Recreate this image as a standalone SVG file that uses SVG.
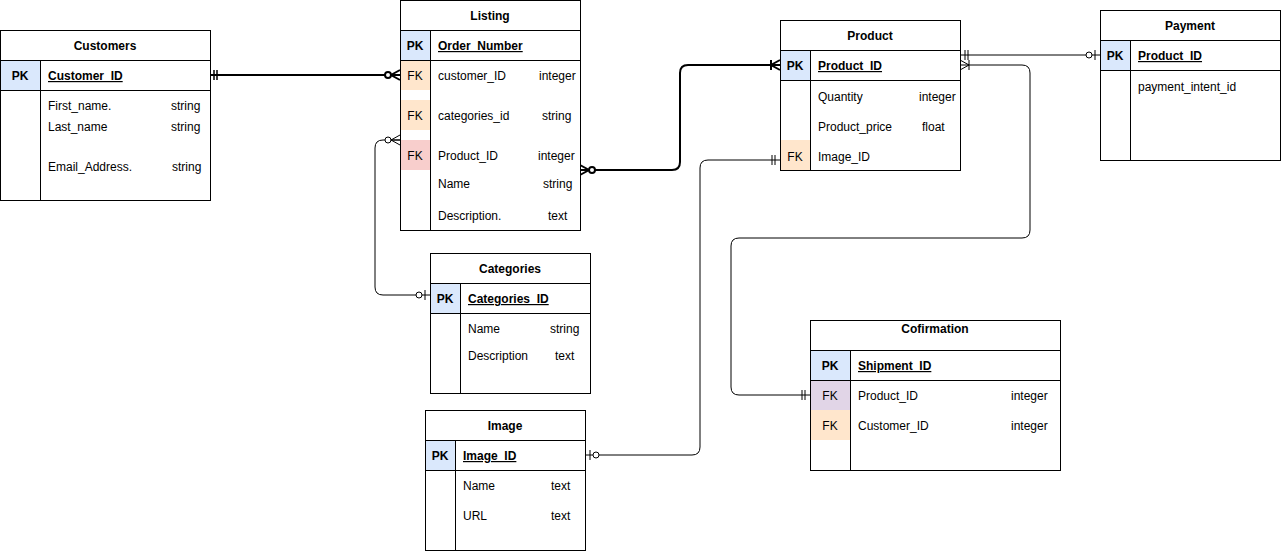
<svg xmlns="http://www.w3.org/2000/svg" width="1281" height="551" viewBox="0 0 1281 551">
<style>
text{font-family:"Liberation Sans",Arial,sans-serif;font-size:12px;fill:#000;transform:translateY(1px)}
.t{font-weight:bold;text-anchor:middle}
.k{font-weight:bold;text-anchor:middle}
.kf{text-anchor:middle}
.pk{font-weight:bold;text-decoration:underline}
.box{fill:#fff;stroke:#000;stroke-width:1}
.ln{fill:none;stroke:#000;stroke-width:1}
.blue{fill:#dae8fc}
.org{fill:#ffe6cc}
.red{fill:#f8cecc}
.pur{fill:#e1d5e7}
.c{fill:none;stroke:#000;stroke-width:1}
.ct{fill:none;stroke:#000;stroke-width:2}
</style>
<defs>
<marker id="mOne" markerUnits="userSpaceOnUse" viewBox="-20 -10 22 20" refX="0" refY="0" markerWidth="22" markerHeight="20" orient="auto-start-reverse" overflow="visible">
<path d="M-5,-5V5M-8,-5V5" fill="none" stroke="#000" stroke-width="1"/>
</marker>
<marker id="mOneT" markerUnits="userSpaceOnUse" viewBox="-20 -10 22 20" refX="0" refY="0" markerWidth="22" markerHeight="20" orient="auto-start-reverse" overflow="visible">
<path d="M-4,-5V5M-7,-5V5" fill="none" stroke="#000" stroke-width="1.5"/>
</marker>
<marker id="zMany" markerUnits="userSpaceOnUse" viewBox="-20 -10 22 20" refX="0" refY="0" markerWidth="22" markerHeight="20" orient="auto-start-reverse" overflow="visible">
<path d="M0,-5L-9,0L0,5M-9,0H0" fill="none" stroke="#000" stroke-width="1"/>
<circle cx="-12" cy="0" r="3" fill="#fff" stroke="#000" stroke-width="1"/>
</marker>
<marker id="zManyT" markerUnits="userSpaceOnUse" viewBox="-20 -10 22 20" refX="0" refY="0" markerWidth="22" markerHeight="20" orient="auto-start-reverse" overflow="visible">
<path d="M0,-5L-9,0L0,5M-9,0H0" fill="none" stroke="#000" stroke-width="2"/>
<circle cx="-12" cy="0" r="3" fill="#fff" stroke="#000" stroke-width="2"/>
</marker>
<marker id="oMany" markerUnits="userSpaceOnUse" viewBox="-20 -10 22 20" refX="0" refY="0" markerWidth="22" markerHeight="20" orient="auto-start-reverse" overflow="visible">
<path d="M0,-5L-9,0L0,5M-9,-5V5" fill="none" stroke="#000" stroke-width="1"/>
</marker>
<marker id="oManyT" markerUnits="userSpaceOnUse" viewBox="-20 -10 22 20" refX="0" refY="0" markerWidth="22" markerHeight="20" orient="auto-start-reverse" overflow="visible">
<path d="M0,-5L-9,0L0,5M-9,-5V5" fill="none" stroke="#000" stroke-width="2"/>
</marker>
<marker id="zOne" markerUnits="userSpaceOnUse" viewBox="-20 -10 22 20" refX="0" refY="0" markerWidth="22" markerHeight="20" orient="auto-start-reverse" overflow="visible">
<path d="M-5,-5V5" fill="none" stroke="#000" stroke-width="1"/>
<circle cx="-11" cy="0" r="3" fill="#fff" stroke="#000" stroke-width="1"/>
</marker>
</defs>
<rect width="1281" height="551" fill="#fff"/>

<g id="connectors">
<path class="ct" d="M210,75H400" marker-start="url(#mOneT)" marker-end="url(#zManyT)"/>
<path class="ct" d="M580,170H672Q680,170 680,162V73Q680,65 688,65H780" marker-start="url(#zManyT)" marker-end="url(#oManyT)"/>
<path class="c" d="M400,140H383Q375,140 375,148V287Q375,295 383,295H430" marker-start="url(#zMany)" marker-end="url(#zOne)"/>
<path class="c" d="M585,455H692Q700,455 700,447V168Q700,160 708,160H780" marker-start="url(#zOne)" marker-end="url(#mOne)"/>
<path class="c" d="M960,55H1100" marker-start="url(#mOne)" marker-end="url(#zOne)"/>
<path class="c" d="M960,65H1022Q1030,65 1030,73V230Q1030,238 1022,238H739Q731,238 731,246V387Q731,395 739,395H810" marker-start="url(#oMany)" marker-end="url(#mOne)"/>
</g>

<g id="customers">
<rect class="box" x="0.5" y="30.5" width="210" height="170"/>
<rect class="blue" x="1" y="61" width="39" height="29"/>
<path class="ln" d="M0,60.5H210M0,90.5H210M40.5,60V200"/>
<text class="t" x="105" y="49">Customers</text>
<text class="k" x="20" y="79">PK</text>
<text class="pk" x="48" y="79">Customer_ID</text>
<text x="48" y="109">First_name.</text><text x="171" y="109">string</text>
<text x="48" y="130">Last_name</text><text x="171" y="130">string</text>
<text x="48" y="170">Email_Address.</text><text x="172" y="170">string</text>
</g>

<g id="listing">
<rect class="box" x="400.5" y="0.5" width="180" height="230"/>
<rect class="blue" x="401" y="31" width="29" height="29"/>
<rect class="org" x="401" y="61" width="29" height="29"/>
<rect class="org" x="401" y="100" width="29" height="30"/>
<rect class="red" x="401" y="140" width="29" height="30"/>
<path class="ln" d="M400,30.5H580M400,60.5H580M430.5,30V230"/>
<text class="t" x="490" y="19">Listing</text>
<text class="k" x="415" y="49">PK</text>
<text class="pk" x="438" y="49">Order_Number</text>
<text class="kf" x="415" y="79">FK</text><text x="438" y="79">customer_ID</text><text x="539" y="79">integer</text>
<text class="kf" x="415" y="119">FK</text><text x="438" y="119">categories_id</text><text x="542" y="119">string</text>
<text class="kf" x="415" y="159">FK</text><text x="438" y="159">Product_ID</text><text x="538" y="159">integer</text>
<text x="438" y="187">Name</text><text x="543" y="187">string</text>
<text x="438" y="219">Description.</text><text x="548" y="219">text</text>
</g>

<g id="product">
<rect class="box" x="780.5" y="20.5" width="180" height="150"/>
<rect class="blue" x="781" y="51" width="29" height="29"/>
<rect class="org" x="781" y="140" width="29" height="30"/>
<path class="ln" d="M780,50.5H960M780,80.5H960M810.5,50V170"/>
<text class="t" x="870" y="39">Product</text>
<text class="k" x="795" y="69">PK</text>
<text class="pk" x="818" y="69">Product_ID</text>
<text x="818" y="100">Quantity</text><text x="919" y="100">integer</text>
<text x="818" y="130">Product_price</text><text x="922" y="130">float</text>
<text class="kf" x="795" y="160">FK</text><text x="818" y="160">Image_ID</text>
</g>

<g id="payment">
<rect class="box" x="1100.5" y="10.5" width="180" height="150"/>
<rect class="blue" x="1101" y="41" width="29" height="29"/>
<path class="ln" d="M1100,40.5H1280M1100,70.5H1280M1130.5,40V160"/>
<text class="t" x="1190" y="29">Payment</text>
<text class="k" x="1115" y="59">PK</text>
<text class="pk" x="1138" y="59">Product_ID</text>
<text x="1138" y="90">payment_intent_id</text>
</g>

<g id="categories">
<rect class="box" x="430.5" y="253.5" width="160" height="140"/>
<rect class="blue" x="431" y="284" width="29" height="29"/>
<path class="ln" d="M430,283.5H590M430,313.5H590M460.5,283V393"/>
<text class="t" x="510" y="272">Categories</text>
<text class="k" x="445" y="302">PK</text>
<text class="pk" x="468" y="302">Categories_ID</text>
<text x="468" y="332">Name</text><text x="550" y="332">string</text>
<text x="468" y="359">Description</text><text x="555" y="359">text</text>
</g>

<g id="image">
<rect class="box" x="425.5" y="410.5" width="160" height="140"/>
<rect class="blue" x="426" y="441" width="29" height="29"/>
<path class="ln" d="M425,440.5H585M425,470.5H585M455.5,440V550"/>
<text class="t" x="505" y="429">Image</text>
<text class="k" x="440" y="459">PK</text>
<text class="pk" x="463" y="459">Image_ID</text>
<text x="463" y="489">Name</text><text x="551" y="489">text</text>
<text x="463" y="519">URL</text><text x="551" y="519">text</text>
</g>

<g id="cofirmation">
<rect class="box" x="810.5" y="320.5" width="250" height="150"/>
<rect class="blue" x="811" y="351" width="39" height="29"/>
<rect class="pur" x="811" y="381" width="39" height="29"/>
<rect class="org" x="811" y="410" width="39" height="30"/>
<path class="ln" d="M810,350.5H1060M810,380.5H1060M850.5,350V470"/>
<text class="t" x="935" y="332">Cofirmation</text>
<text class="k" x="830" y="369">PK</text>
<text class="pk" x="858" y="369">Shipment_ID</text>
<text class="kf" x="830" y="399">FK</text><text x="858" y="399">Product_ID</text><text x="1011" y="399">integer</text>
<text class="kf" x="830" y="429">FK</text><text x="858" y="429">Customer_ID</text><text x="1011" y="429">integer</text>
</g>
</svg>
